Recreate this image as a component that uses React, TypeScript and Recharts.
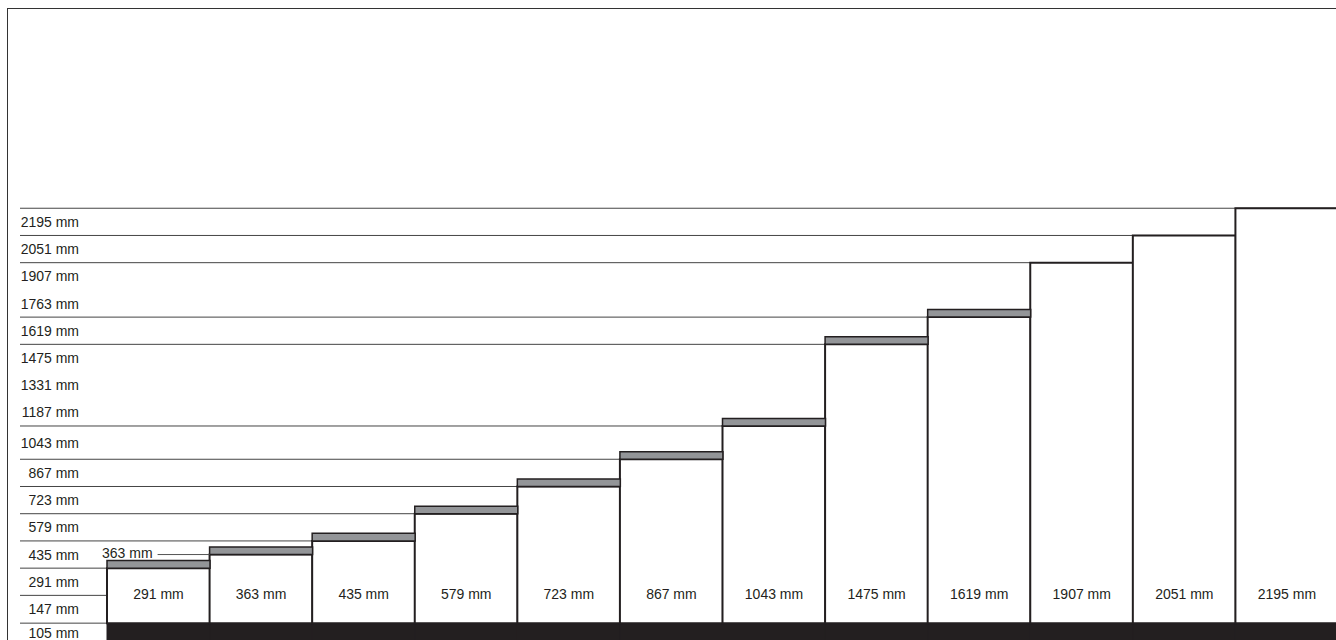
import { Bar, BarChart, CartesianGrid, LabelList, XAxis, YAxis } from "recharts"

const INK = "#231f20"
const TREAD_GRAY = "#939598"
const FONT = "'Liberation Sans', Arial, sans-serif"

// one entry per step, left to right
const steps = ["1", "2", "3", "4", "5", "6", "7", "8", "9", "10", "11", "12"]
const stepHeights = [291, 363, 435, 579, 723, 867, 1043, 1475, 1619, 1907, 2051, 2195]
const treadThickness = [40, 40, 40, 40, 40, 40, 40, 40, 40, 0, 0, 0]
const baseDepth = [-105, -105, -105, -105, -105, -105, -105, -105, -105, -105, -105, -105]
const callouts = ["", "363 mm", "", "", "", "", "", "", "", "", "", ""]

// horizontal guide lines (run from the left scale to the step they belong to)
const guideLevels = [2195, 2051, 1907, 1619, 1475, 1043, 867, 723, 579, 435, 291, 147, 0]

// left scale: each label sits in the band between two levels
const scaleLevels = [2195, 2051, 1907, 1763, 1619, 1475, 1331, 1187, 1043, 867, 723, 579, 435, 291, 147, 0, -105]
const scaleLabels = [
  "2195 mm", "2051 mm", "1907 mm", "1763 mm", "1619 mm", "1475 mm", "1331 mm", "1187 mm",
  "1043 mm", "867 mm", "723 mm", "579 mm", "435 mm", "291 mm", "147 mm", "105 mm",
]

const data = steps.map((step, i) => ({
  step,
  base: baseDepth[i],
  height: stepHeights[i],
  tread: treadThickness[i],
  callout: callouts[i],
}))

const scaleTicks = scaleLabels.map((_, i) => (scaleLevels[i] + scaleLevels[i + 1]) / 2)

const LABEL_RIGHT = 71

function renderScaleTick(props: any) {
  const { y, payload, index } = props
  let idx = scaleTicks.indexOf(Number(payload?.value))
  if (idx < 0) idx = index
  return (
    <text
      key={`t-${idx}`}
      x={LABEL_RIGHT}
      y={y}
      textAnchor="end"
      dominantBaseline="central"
      fontFamily={FONT}
      fontSize={14}
      fill={INK}
    >
      {scaleLabels[idx]}
    </text>
  )
}

function StepLabel(props: any) {
  const { x, y, width, height, index, value } = props
  const note = data[index]?.callout
  return (
    <g>
      <text
        x={x + width / 2}
        y={y + height - 29}
        textAnchor="middle"
        dominantBaseline="central"
        fontFamily={FONT}
        fontSize={14}
        fill={INK}
      >
        {`${value} mm`}
      </text>
      {note ? (
        <g>
          <line x1={x - 52} x2={x} y1={y} y2={y} stroke="#555" strokeWidth={1} />
          <text
            x={x - 57}
            y={y - 2}
            textAnchor="end"
            dominantBaseline="central"
            fontFamily={FONT}
            fontSize={14}
            fill={INK}
          >
            {note}
          </text>
        </g>
      ) : null}
    </g>
  )
}

export default function App() {
  return (
    <div
      style={{
        position: "fixed",
        left: 7,
        top: 8,
        width: 1328,
        height: 631,
        overflow: "hidden",
        borderLeft: "1px solid #333",
        borderTop: "1px solid #333",
        background: "#fff",
      }}
    >
      <BarChart
        width={1330}
        height={634}
        data={data}
        stackOffset="sign"
        barCategoryGap={0}
        barGap={0}
        margin={{ top: 0, right: 0, bottom: 0, left: 11 }}
      >
        <CartesianGrid
          vertical={false}
          horizontalValues={guideLevels}
          stroke="#444"
          strokeWidth={1}
        />
        <XAxis dataKey="step" hide padding={{ left: 87, right: 0 }} />
        <YAxis
          type="number"
          domain={[-105, 3249]}
          allowDataOverflow
          ticks={scaleTicks}
          interval={0}
          width={1}
          axisLine={false}
          tickLine={false}
          tick={renderScaleTick}
        />
        <Bar
          dataKey="base"
          stackId="s"
          fill={INK}
          stroke={INK}
          strokeWidth={1}
          isAnimationActive={false}
        />
        <Bar
          dataKey="height"
          stackId="s"
          fill="#fff"
          stroke={INK}
          strokeWidth={2}
          isAnimationActive={false}
        >
          <LabelList dataKey="height" content={<StepLabel />} />
        </Bar>
        <Bar
          dataKey="tread"
          stackId="s"
          fill={TREAD_GRAY}
          stroke={INK}
          strokeWidth={1.5}
          isAnimationActive={false}
        />
      </BarChart>
    </div>
  )
}
